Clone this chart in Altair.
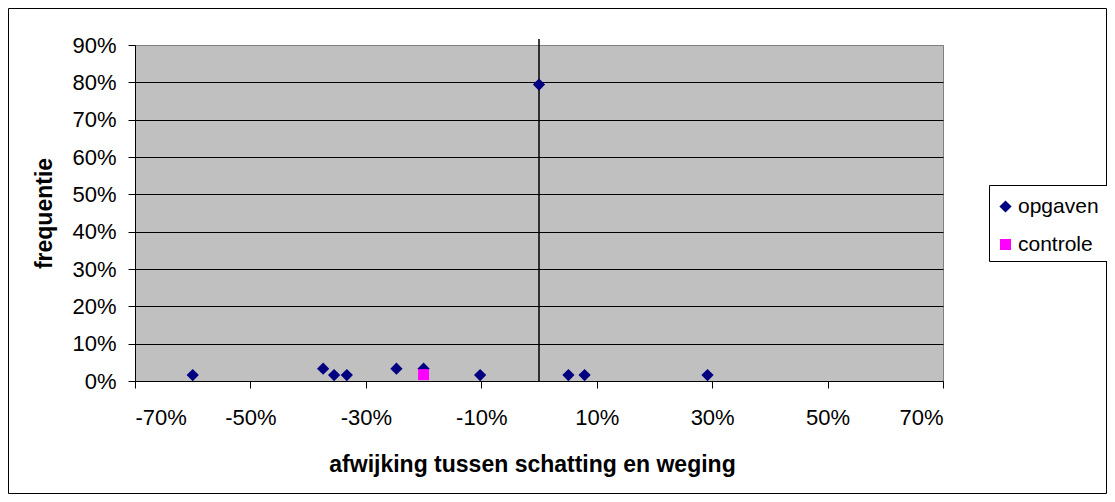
import altair as alt
import pandas as pd

# --- data ---
opg_x = [-0.60, -0.374, -0.355, -0.333, -0.247, -0.20, -0.102, 0.0, 0.051, 0.079, 0.292]
opg_y = [0.016, 0.033, 0.016, 0.016, 0.033, 0.033, 0.016, 0.794, 0.016, 0.016, 0.016]
ctl_x = [-0.20]
ctl_y = [0.017]
series = ["opgaven", "controle"]
x_ticks = [-0.7, -0.5, -0.3, -0.1, 0.1, 0.3, 0.5, 0.7]
y_ticks = [0.0, 0.1, 0.2, 0.3, 0.4, 0.5, 0.6, 0.7, 0.8, 0.9]

df = pd.DataFrame(
    {"x": opg_x + ctl_x, "y": opg_y + ctl_y,
     "reeks": ["opgaven"] * len(opg_x) + ["controle"] * len(ctl_x)}
)

FONT = "Liberation Sans"
W, H = 808, 336
PL, PT = 127, 37
PR, PB = 1099 - PL - W, 486 - PT - H

xscale = alt.Scale(domain=[-0.7, 0.7], nice=False, zero=False)
yscale = alt.Scale(domain=[0, 0.9], nice=False, zero=False)

points = alt.Chart(df).mark_point(filled=True, opacity=1).encode(
    x=alt.X("x:Q", scale=xscale, axis=alt.Axis(
        values=x_ticks, labelExpr="round(datum.value*100) + '%'",
        title="afwijking tussen schatting en weging", grid=False,
        domainColor="black", tickColor="black", tickSize=7,
        labelFontSize=22, labelPadding=19, titleFontSize=23, titleFontWeight="bold",
        titleBaseline="middle", titleY=83, titleX=397, titleAlign="center",
    )),
    y=alt.Y("y:Q", scale=yscale, axis=alt.Axis(
        values=y_ticks, labelExpr="round(datum.value*100) + '%'",
        title="frequentie", grid=True,
        gridColor={"condition": {"test": "datum.value > 0.85", "value": "#808080"}, "value": "black"},
        domainColor="black", tickColor="black", tickSize=7,
        labelFontSize=22, labelPadding=12, titleFontSize=23, titleFontWeight="bold",
        titleBaseline="middle", titleX=-91, titleY=H / 2, titleAlign="center",
    )),
    color=alt.Color("reeks:N", scale=alt.Scale(domain=series, range=["#000080", "#FF00FF"]),
                    legend=alt.Legend(title=None, orient="none", legendX=851, legendY=142,
                                      strokeColor="transparent", fillColor="transparent", padding=9,
                                      labelFontSize=21, rowPadding=16, labelOffset=2,
                                      symbolStrokeWidth=0)),
    shape=alt.Shape("reeks:N", scale=alt.Scale(domain=series, range=["diamond", "square"])),
    size=alt.Size("reeks:N", scale=alt.Scale(domain=series, range=[150, 121])),
    order=alt.Order("order:Q"),
).transform_calculate(order="datum.reeks == 'controle' ? 1 : 0")

vline = alt.Chart(pd.DataFrame({"x": [0.0]})).mark_rule(color="black", strokeWidth=1.5).encode(
    x=alt.X("x:Q", scale=xscale), y=alt.value(-6), y2=alt.value(H)
)

frame = alt.Chart(pd.DataFrame({"a": [0]})).mark_rect(
    fill=None, stroke="black", strokeWidth=1
).encode(
    x=alt.value(-PL + 0.5), x2=alt.value(W + PR - 0.5),
    y=alt.value(-PT + 0.5), y2=alt.value(H + PB - 0.5),
)

legend_box = alt.Chart(pd.DataFrame({"a": [0]})).mark_rect(
    fill="white", stroke="black", strokeWidth=1
).encode(
    x=alt.value(854.5), x2=alt.value(974.5),
    y=alt.value(140.5), y2=alt.value(216.5),
)

chart = alt.layer(vline, points, frame, legend_box).properties(
    width=W, height=H,
    autosize=alt.AutoSizeParams(type="none"),
    padding={"left": PL, "top": PT, "right": PR, "bottom": PB},
).configure(
    font=FONT, background="white"
).configure_view(
    fill="#C0C0C0", stroke="#808080", strokeWidth=1
).configure_axis(
    labelColor="black", titleColor="black", labelFont=FONT, titleFont=FONT
).configure_legend(
    labelFont=FONT, labelColor="black"
)

chart.save("out.html", embed_options={"renderer": "svg", "actions": False})
